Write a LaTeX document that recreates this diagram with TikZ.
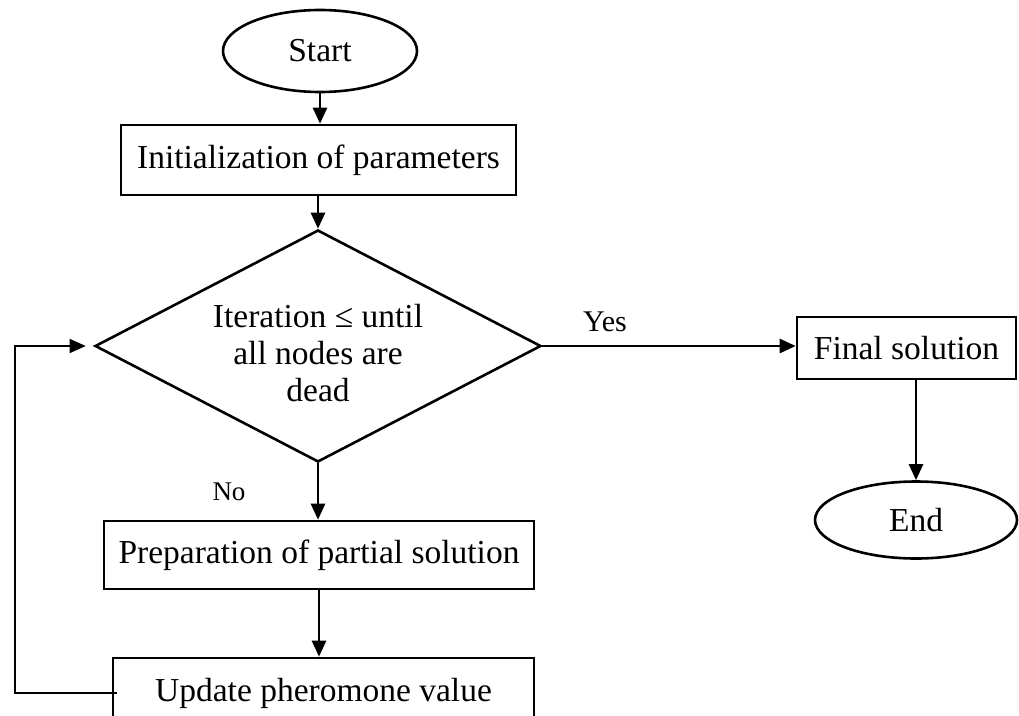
\documentclass[tikz,border=0pt]{standalone}
\usepackage{fontspec}
\setmainfont{Liberation Serif}
\usetikzlibrary{shapes.geometric,arrows.meta}

\tikzset{
  every node/.style={font=\fontsize{33.5}{37}\selectfont, inner sep=0pt},
  terminal/.style={draw, ellipse, line width=2.6pt},
  process/.style={draw, rectangle, line width=2.6pt},
  decision/.style={draw, diamond, line width=2.6pt},
  flow/.style={line width=2.6pt, -{Triangle[length=16pt,width=14pt]}},
  back/.style={line width=1.5pt, -{Triangle[length=16pt,width=14pt]}},
  tag/.style={font=\fontsize{#1}{#1}\selectfont},
}

\begin{document}
\begin{tikzpicture}[x=1pt, y=-1pt]
  \useasboundingbox (0,0) rectangle (1019,715);
  \clip (0,0) rectangle (1019,715);

  % flow steps
  \node[terminal, minimum width=194pt, minimum height=82pt] (start) at (320,51) {Start};
  \node[process, minimum width=395pt, minimum height=70pt] (init) at (318.5,160) {Initialization of parameters};
  \node[decision, minimum width=446pt, minimum height=232pt] (dec) at (318,346) {};
  \node[align=center] (dectext) at (318,353) {Iteration ≤ until\\all nodes are\\dead};
  \node[process, minimum width=219pt, minimum height=62pt] (final) at (906.5,348) {Final solution};
  \node[terminal, minimum width=202pt, minimum height=77pt] (endn) at (916,520) {End};
  \node[process, minimum width=430pt, minimum height=68pt] (prep) at (319,555) {Preparation of partial solution};
  \node[process, minimum width=421pt, minimum height=70pt] (upd) at (323.5,693) {Update pheromone value};

  % branch labels
  \node[tag=30] (yes) at (605,322) {Yes};
  \node[tag=27] (no) at (229,492) {No};

  % loop corner
  \coordinate (loopx) at (15,0);

  % connectors
  \draw[flow] (start.south) -- (start.south |- init.north);
  \draw[flow] (dec.north |- init.south) -- (dec.north);
  \draw[flow] (dec.east) -- (dec.east -| final.west);
  \draw[flow] (dec.south) -- (dec.south |- prep.north);
  \draw[flow] (prep.south) -- (prep.south |- upd.north);
  \draw[flow] (final.south -| endn.north) -- (endn.north);
  \draw[back] ([xshift=5pt]upd.west) -- (loopx |- upd.west) |- ([xshift=-8pt]dec.west);
\end{tikzpicture}
\end{document}
